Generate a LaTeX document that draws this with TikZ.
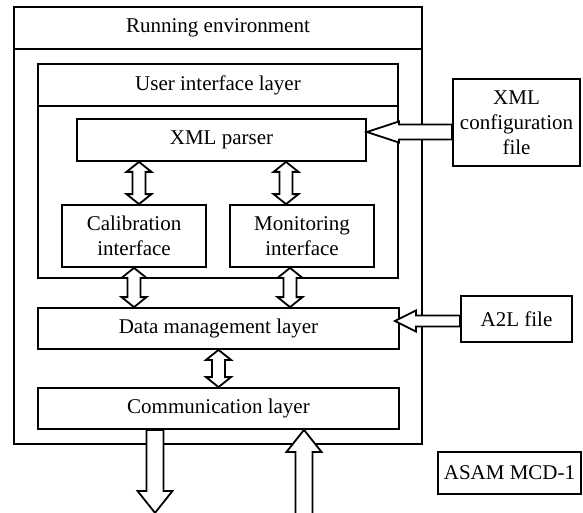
\documentclass[tikz,border=0pt]{standalone}
\usepackage{fontspec}
\setmainfont{Liberation Serif}
\usetikzlibrary{calc}
\tikzset{box/.style={draw, line width=1.8pt, inner sep=0pt, align=center, font=\fontsize{21}{25}\selectfont},
	hollow/.style={draw, fill=white, line width=1.8pt, line join=miter}}
% double hollow arrow, top tip (#1) to bottom tip (#2)
\def\dblarrow(#1)(#2){\draw[hollow] (#1) -- ++(12.5,10) -- ++(-6,0) -- ($(#2)+(6.5,-10)$) -- ++(6,0) -- (#2) -- ++(-12.5,-10) -- ++(6,0) -- ($(#1)+(-6.5,10)$) -- ++(-6,0) -- cycle;}
% single hollow arrow, tail (#1), tip (#2), head length (#3), head half (#4), shaft half (#5)
\def\hollowvert(#1)(#2)(#3)(#4)(#5){\draw[hollow] (#2) -- ++(#4,#3) -- ++(#5-#4,0) -- ($(#1)+(#5,0)$) -- ($(#1)+(-#5,0)$) -- ($(#2)+(-#5,#3)$) -- ++(#5-#4,0) -- cycle;}
\def\hollowhorz(#1)(#2)(#3)(#4)(#5){\draw[hollow] (#2) -- ++(#3,#4) -- ++(0,#5-#4) -- ($(#1)+(0,#5)$) -- ($(#1)+(0,-#5)$) -- ($(#2)+(#3,-#5)$) -- ++(0,#5-#4) -- cycle;}
\begin{document}
\begin{tikzpicture}[x=1pt, y=-1pt]
			\useasboundingbox (0,0) rectangle (583,513);
			
			% running environment
			\node[box, minimum width=408pt, minimum height=437pt] (runenv) at (218,225.5) {};
			\node[box, anchor=north, minimum width=408pt, minimum height=42pt] (runtitle) at (runenv.north) {Running environment};
			
			% user interface layer
			\node[box, minimum width=360pt, minimum height=214pt] (uilayer) at (218,171) {};
			\node[box, anchor=north, minimum width=360pt, minimum height=42pt] (uititle) at (uilayer.north) {User interface layer};
			\node[box, minimum width=289pt, minimum height=42pt] (parser) at (221.5,140) {XML parser};
			\node[box, minimum width=144pt, minimum height=62pt] (calib) at (134,236) {Calibration\\interface};
			\node[box, minimum width=144pt, minimum height=62pt] (monitor) at (302,236) {Monitoring\\interface};
			
			\node[box, minimum width=361pt, minimum height=41pt] (data) at (218.5,328.5) {Data management layer};
			\node[box, minimum width=361pt, minimum height=41pt] (comm) at (218.5,408.5) {Communication layer};
			
			\node[box, minimum width=127pt, minimum height=87pt] (xmlcfg) at (516.5,122.5) {XML\\configuration\\file};
			\node[box, minimum width=111pt, minimum height=46pt] (a2l) at (516.5,319) {A2L file};
			\node[box, minimum width=143pt, minimum height=42pt] (asam) at (509.5,473) {ASAM MCD-1};
			
			\coordinate (ctop) at ($(calib.north)+(5,0)$);
			\coordinate (mtop) at ($(monitor.north)+(-16,0)$);
			\coordinate (mbot) at ($(monitor.south)+(-12,0)$);
			\coordinate (cfgtip) at ($(parser.east)+(0,-8)$);
			\coordinate (a2ltip) at ($(data.east)+(-5,-7.5)$);
			\coordinate (cdown) at ($(comm.south)+(-63.5,0)$);
			\coordinate (outtip) at ($(cdown)+(0,83)$);
			\coordinate (cup) at ($(comm.south)+(85.5,0)$);
			\coordinate (intail) at ($(cup)+(0,88)$);
			
			\dblarrow(parser.south -| ctop)(ctop)
			\dblarrow(parser.south -| mtop)(mtop)
			\dblarrow(calib.south)(calib.south |- data.north)
			\dblarrow(mbot)(mbot |- data.north)
			\dblarrow(data.south)(comm.north)
			
			\hollowhorz(cfgtip -| xmlcfg.west)(cfgtip)(32)(-10.5)(-7.5)
			\hollowhorz(a2ltip -| a2l.west)(a2ltip)(21)(-10.5)(-5.5)
			
			\hollowvert(cdown)(outtip)(-22)(17.5)(8.5)
			\hollowvert(intail)(cup)(22)(17.5)(8.5)
			
\end{tikzpicture}
\end{document}
